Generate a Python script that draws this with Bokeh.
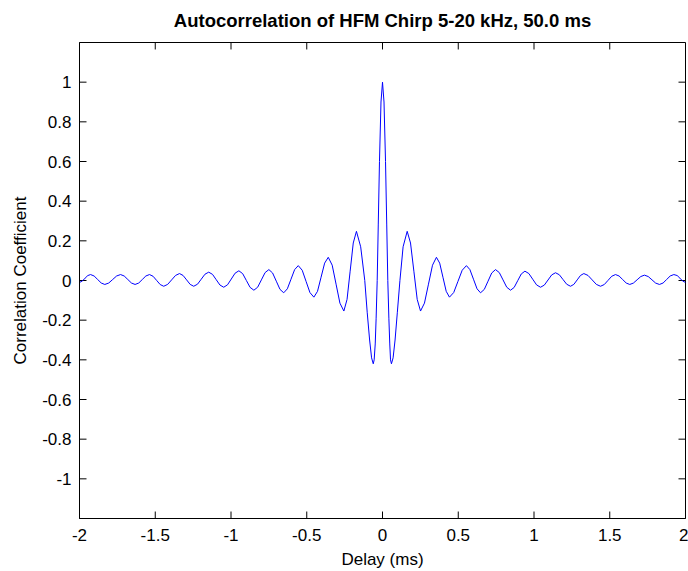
from bokeh.plotting import figure
from bokeh.models import LinearAxis, FixedTicker, Range1d
from bokeh.embed import file_html
from bokeh.resources import INLINE

# ---- data ----
x_tick_values = [-2, -1.5, -1, -0.5, 0, 0.5, 1, 1.5, 2]
x_tick_labels = ["-2", "-1.5", "-1", "-0.5", "0", "0.5", "1", "1.5", "2"]
y_tick_values = [-1, -0.8, -0.6, -0.4, -0.2, 0, 0.2, 0.4, 0.6, 0.8, 1]
y_tick_labels = ["-1", "-0.8", "-0.6", "-0.4", "-0.2", "0", "0.2", "0.4", "0.6", "0.8", "1"]

delay_left = [
    -2.0, -1.98, -1.963, -1.945, -1.927,
    -1.9035, -1.88, -1.8565, -1.833,
    -1.807, -1.781, -1.755, -1.729,
    -1.705, -1.681, -1.657, -1.633,
    -1.609, -1.5855, -1.562, -1.538,
    -1.5145, -1.491, -1.4675, -1.444,
    -1.418, -1.392, -1.366, -1.340,
    -1.3165, -1.293, -1.2695, -1.246,
    -1.221, -1.1965, -1.172, -1.147,
    -1.122, -1.0975, -1.073, -1.048,
    -1.023, -0.998, -0.973, -0.948,
    -0.923, -0.8985, -0.874, -0.849,
    -0.824, -0.7995, -0.775, -0.750,
    -0.7255, -0.701, -0.6765, -0.652,
    -0.628, -0.604, -0.58, -0.556,
    -0.530, -0.5045, -0.479, -0.453,
    -0.429, -0.4055, -0.382, -0.358,
    -0.332, -0.3065, -0.281, -0.255,
    -0.234, -0.2135, -0.193, -0.172,
    -0.144, -0.117, -0.101, -0.085, -0.072, -0.061,
    -0.055, -0.048, -0.042, -0.035, -0.028, -0.02, -0.01,
]
corr_left = [
    -0.01, -0.002, 0.012, 0.025, 0.03,
    0.0227, 0.005, -0.0127, -0.02,
    -0.0127, 0.005, 0.0227, 0.03,
    0.0227, 0.005, -0.0127, -0.02,
    -0.0127, 0.005, 0.0227, 0.03,
    0.0214, 0.0005, -0.0204, -0.029,
    -0.0196, 0.003, 0.0256, 0.035,
    0.0256, 0.003, -0.0196, -0.029,
    -0.0186, 0.0065, 0.0316, 0.042,
    0.0309, 0.004, -0.0229, -0.034,
    -0.0218, 0.0075, 0.0368, 0.049,
    0.0346, 0.0, -0.0346, -0.049,
    -0.0338, 0.003, 0.0398, 0.055,
    0.0379, -0.0035, -0.0449, -0.062,
    -0.0419, 0.0065, 0.0549, 0.075,
    0.0517, -0.0045, -0.0607, -0.084,
    -0.0546, 0.0165, 0.0876, 0.117,
    0.0773, -0.0185, -0.1143, -0.154,
    -0.0951, 0.047, 0.1891, 0.248,
    0.17, 0.0, -0.16, -0.3, -0.39, -0.42,
    -0.40, -0.32, -0.19, 0.0, 0.28, 0.6, 0.9,
]
delay_center = [0.0]
corr_center = [1.0]
delay_right = [
    0.01, 0.02, 0.028, 0.035, 0.042, 0.048, 0.053,
    0.059, 0.07, 0.083, 0.098, 0.115, 0.136,
    0.163, 0.185, 0.207, 0.229,
    0.251, 0.277, 0.3035, 0.330,
    0.356, 0.3775, 0.399, 0.4205,
    0.442, 0.470, 0.498, 0.526,
    0.554, 0.577, 0.6005, 0.624,
    0.647, 0.672, 0.6965, 0.721,
    0.746, 0.771, 0.7955, 0.820,
    0.845, 0.869, 0.8925, 0.916,
    0.940, 0.966, 0.9915, 1.017,
    1.043, 1.068, 1.0925, 1.117,
    1.142, 1.167, 1.1915, 1.216,
    1.241, 1.263, 1.285, 1.307,
    1.329, 1.3565, 1.384, 1.4115,
    1.439, 1.464, 1.4885, 1.513,
    1.538, 1.5615, 1.585, 1.6085,
    1.632, 1.656, 1.6805, 1.705,
    1.729, 1.754, 1.7785, 1.803,
    1.828, 1.852, 1.8755, 1.899,
    1.923, 1.945, 1.963, 1.98, 2.0,
]
corr_right = [
    0.9, 0.6, 0.28, 0.0, -0.19, -0.32, -0.40,
    -0.42, -0.39, -0.3, -0.16, 0.0, 0.17,
    0.248, 0.189, 0.047, -0.095,
    -0.154, -0.114, -0.0185, 0.077,
    0.117, 0.0876, 0.0165, -0.0546,
    -0.084, -0.0607, -0.0045, 0.0517,
    0.075, 0.0549, 0.0065, -0.0419,
    -0.062, -0.0449, -0.0035, 0.0379,
    0.055, 0.0398, 0.003, -0.0338,
    -0.049, -0.035, -0.001, 0.033,
    0.047, 0.0351, 0.0065, -0.0221,
    -0.034, -0.0233, 0.0025, 0.0283,
    0.039, 0.029, 0.005, -0.019,
    -0.029, -0.0196, 0.003, 0.0256,
    0.035, 0.0256, 0.003, -0.0196,
    -0.029, -0.0204, 0.0005, 0.0214,
    0.03, 0.0227, 0.005, -0.0127,
    -0.02, -0.013, 0.0035, 0.020,
    0.027, 0.020, 0.0035, -0.013,
    -0.02, -0.0127, 0.005, 0.0227,
    0.03, 0.025, 0.012, -0.002, -0.01,
]

delay_ms = delay_left + delay_center + delay_right
corr = corr_left + corr_center + corr_right

title_text = "Autocorrelation of HFM Chirp 5-20 kHz, 50.0 ms"
x_label = "Delay (ms)"
y_label = "Correlation Coefficient"

FONT = "Liberation Sans"
X_MIN, X_MAX = -2.0, 2.0
Y_MIN, Y_MAX = -1.2, 1.2

W, H = 688, 571
BL, BR, BT, BB = 79, 3, 42, 51
TICK_PX = 7

p = figure(width=W, height=H, output_backend="svg", toolbar_location=None,
           x_range=Range1d(X_MIN, X_MAX), y_range=Range1d(Y_MIN, Y_MAX),
           x_axis_location=None, y_axis_location=None,
           min_border_left=BL, min_border_right=BR, min_border_top=BT, min_border_bottom=BB)
p.background_fill_color = "white"
p.border_fill_color = "white"
p.outline_line_color = "black"
p.outline_line_width = 1
p.grid.visible = False

p.title.text = title_text
p.title.align = "center"
p.title.vertical_align = "top"
p.title.text_font = FONT
p.title.text_font_size = "18.5px"
p.title.text_font_style = "bold"
p.title.text_color = "black"
p.title.standoff = 19

x_overrides = {v: s for v, s in zip(x_tick_values, x_tick_labels)}
y_overrides = {v: s for v, s in zip(y_tick_values, y_tick_labels)}


def style_axis(ax, standoff, label_standoff):
    ax.major_tick_in = 0
    ax.major_tick_out = 0
    ax.minor_tick_in = 0
    ax.minor_tick_out = 0
    ax.axis_line_color = "black"
    ax.major_label_text_font = FONT
    ax.major_label_text_color = "black"
    ax.major_label_text_font_size = "17px"
    ax.major_label_standoff = standoff
    ax.axis_label_text_font = FONT
    ax.axis_label_text_font_size = "17px"
    ax.axis_label_text_font_style = "normal"
    ax.axis_label_text_color = "black"
    ax.axis_label_standoff = label_standoff


bottom = LinearAxis(ticker=FixedTicker(ticks=x_tick_values), major_label_overrides=x_overrides)
style_axis(bottom, 10, 6)
bottom.axis_label = x_label
p.add_layout(bottom, "below")

left = LinearAxis(ticker=FixedTicker(ticks=y_tick_values), major_label_overrides=y_overrides)
style_axis(left, 8, 9)
left.axis_label = y_label
p.add_layout(left, "left")

# inward tick marks on all four sides (MATLAB box style)
frame_w = W - BL - BR
frame_h = H - BT - BB
dx_tick = TICK_PX * (X_MAX - X_MIN) / frame_w
dy_tick = TICK_PX * (Y_MAX - Y_MIN) / frame_h
nx = len(x_tick_values)
ny = len(y_tick_values)
TICK_COLOR = "black"
p.segment(x0=x_tick_values, x1=x_tick_values, y0=[Y_MIN] * nx, y1=[Y_MIN + dy_tick] * nx,
          line_color=TICK_COLOR, line_width=1)
p.segment(x0=x_tick_values, x1=x_tick_values, y0=[Y_MAX] * nx, y1=[Y_MAX - dy_tick] * nx,
          line_color=TICK_COLOR, line_width=1)
p.segment(x0=[X_MIN] * ny, x1=[X_MIN + dx_tick] * ny, y0=y_tick_values, y1=y_tick_values,
          line_color=TICK_COLOR, line_width=1)
p.segment(x0=[X_MAX] * ny, x1=[X_MAX - dx_tick] * ny, y0=y_tick_values, y1=y_tick_values,
          line_color=TICK_COLOR, line_width=1)

p.line(delay_ms, corr, line_color="#0000FF", line_width=1)

open("out.html", "w").write(file_html(p, INLINE))
